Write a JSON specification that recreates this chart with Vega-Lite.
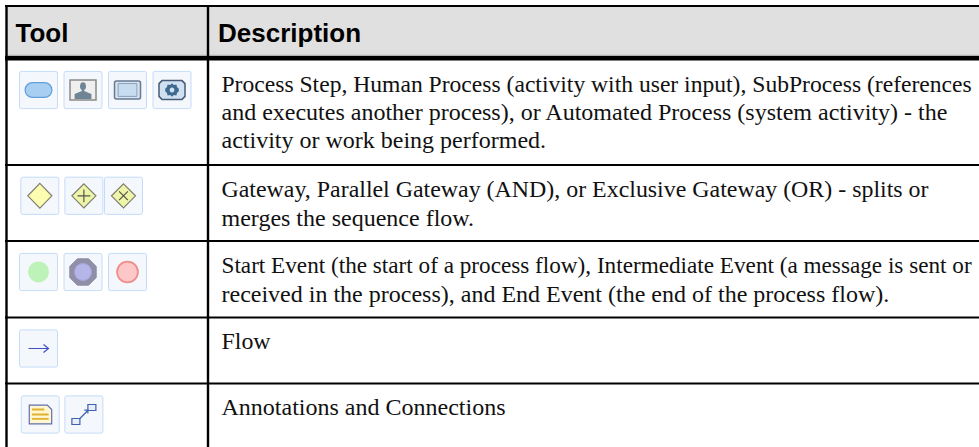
{"$schema":"https://vega.github.io/schema/vega-lite/v6.json","width":979,"height":447,"padding":0,"autosize":{"type":"fit","contains":"padding"},"background":"white","config":{"view":{"stroke":null}},"datasets":{"hlines":[{"boundary":0,"kind":"thin"},{"boundary":0.9,"kind":"hair"},{"boundary":1,"kind":"heavy"},{"boundary":2,"kind":"thin"},{"boundary":3,"kind":"thin"},{"boundary":4,"kind":"thin"},{"boundary":5,"kind":"thin"}],"vlines":[{"column":0},{"column":1}],"header":[{"column":1,"label":"Tool"},{"column":2,"label":"Description"}],"body":[{"lineNo":1,"text":"Process Step, Human Process (activity with user input), SubProcess (references"},{"lineNo":2,"text":"and executes another process), or Automated Process (system activity) - the"},{"lineNo":3,"text":"activity or work being performed."},{"lineNo":4,"text":"Gateway, Parallel Gateway (AND), or Exclusive Gateway (OR) - splits or"},{"lineNo":5,"text":"merges the sequence flow."},{"lineNo":6,"text":"Start Event (the start of a process flow), Intermediate Event (a message is sent or"},{"lineNo":7,"text":"received in the process), and End Event (the end of the process flow)."},{"lineNo":8,"text":"Flow"},{"lineNo":9,"text":"Annotations and Connections"}],"icons":[{"row":1,"slot":1,"part":"tile"},{"row":1,"slot":1,"part":"pill"},{"row":1,"slot":2,"part":"tile"},{"row":1,"slot":2,"part":"frame"},{"row":1,"slot":2,"part":"person"},{"row":1,"slot":3,"part":"tile"},{"row":1,"slot":3,"part":"subOuter"},{"row":1,"slot":3,"part":"subInner"},{"row":1,"slot":4,"part":"tile"},{"row":1,"slot":4,"part":"auto"},{"row":1,"slot":4,"part":"gear"},{"row":1,"slot":4,"part":"gearHole"},{"row":2,"slot":1.03,"part":"tile"},{"row":2,"slot":1.03,"part":"diamond"},{"row":2,"slot":2.02,"part":"tile"},{"row":2,"slot":2.02,"part":"diamondSmall"},{"row":2,"slot":2.02,"part":"plus"},{"row":2,"slot":2.91,"part":"tile"},{"row":2,"slot":2.91,"part":"diamondSmall"},{"row":2,"slot":2.91,"part":"cross"},{"row":3,"slot":1,"part":"tile"},{"row":3,"slot":1,"part":"green"},{"row":3,"slot":2,"part":"tile"},{"row":3,"slot":2,"part":"ring"},{"row":3,"slot":2,"part":"violet"},{"row":3,"slot":3,"part":"tile"},{"row":3,"slot":3,"part":"red"},{"row":4,"slot":1,"part":"tile"},{"row":4,"slot":1,"part":"arrow"},{"row":5,"slot":1.04,"part":"tile"},{"row":5,"slot":1.04,"part":"note"},{"row":5,"slot":1.04,"part":"noteLines"},{"row":5,"slot":2.02,"part":"tile"},{"row":5,"slot":2.02,"part":"connBoxes"},{"row":5,"slot":2.02,"part":"connLine"}]},"layer":[{"data":{"values":[{"band":"header"}]},"mark":{"type":"rect","fill":"#e0e0e0","stroke":null},"encoding":{"x":{"datum":0,"type":"quantitative","scale":{"domain":[0,1],"range":[6,979]},"axis":null},"x2":{"datum":1},"y":{"datum":0,"type":"quantitative","scale":{"domain":[0,1],"range":[6,56]},"axis":null},"y2":{"datum":1}}},{"data":{"name":"hlines"},"mark":{"type":"rule"},"encoding":{"x":{"datum":0,"type":"quantitative","scale":{"domain":[0,1],"range":[5,979]},"axis":null},"x2":{"datum":1},"y":{"field":"boundary","type":"quantitative","scale":{"domain":[0,0.9,1,2,3,4,5],"range":[6,55.3,58.3,165,241,317.5,383.5]},"axis":null},"color":{"field":"kind","type":"nominal","legend":null,"scale":{"domain":["thin","hair","heavy"],"range":["#000000","#a8a8a8","#000000"]}},"strokeWidth":{"field":"kind","type":"nominal","scale":{"type":"ordinal","domain":["thin","hair","heavy"],"range":[2,1,4.4]},"legend":null}}},{"data":{"name":"vlines"},"mark":{"type":"rule","color":"black","strokeWidth":2.4},"encoding":{"x":{"field":"column","type":"quantitative","scale":{"domain":[0,1],"range":[6.5,208]},"axis":null},"y":{"datum":0,"type":"quantitative","scale":{"domain":[0,1],"range":[5,447]},"axis":null},"y2":{"datum":1}}},{"data":{"name":"header"},"mark":{"type":"text","font":"Liberation Sans","fontWeight":"bold","fontSize":26,"align":"left","baseline":"alphabetic","color":"black"},"encoding":{"x":{"field":"column","type":"quantitative","scale":{"domain":[1,2],"range":[15.5,218]},"axis":null},"y":{"datum":1,"type":"quantitative","scale":{"domain":[0,1],"range":[0,42]},"axis":null},"text":{"field":"label"}}},{"data":{"name":"body"},"mark":{"type":"text","font":"Liberation Serif","align":"left","baseline":"alphabetic","color":"#111111"},"encoding":{"x":{"datum":0,"type":"quantitative","scale":{"domain":[0,1],"range":[221.5,979]},"axis":null},"y":{"field":"lineNo","type":"quantitative","scale":{"domain":[1,2,3,4,5,6,7,8,9],"range":[92,120,148,196.7,225.7,273,301.7,349,415]},"axis":null},"size":{"field":"lineNo","type":"quantitative","legend":null,"scale":{"domain":[1,2,3,4,5,6,7,8,9],"range":[23.6,24,24,23.9,24,23.2,24,23.9,24]}},"text":{"field":"text"}}},{"data":{"name":"icons"},"mark":{"type":"point","filled":true,"size":1600,"opacity":1},"encoding":{"x":{"field":"slot","type":"quantitative","scale":{"domain":[1,4],"range":[38.5,172]},"axis":null},"y":{"field":"row","type":"quantitative","scale":{"domain":[1,2,3,4,5],"range":[90,195.8,272,348.5,414.5]},"axis":null},"shape":{"field":"part","type":"nominal","legend":null,"scale":{"domain":["tile","pill","frame","person","subOuter","subInner","auto","gear","gearHole","diamond","diamondSmall","plus","cross","green","ring","violet","red","arrow","note","noteLines","connBoxes","connLine"],"range":["M-0.85,-0.93H0.85Q0.95,-0.93 0.95,-0.83V0.83Q0.95,0.93 0.85,0.93H-0.85Q-0.95,0.93 -0.95,0.83V-0.83Q-0.95,-0.93 -0.85,-0.93Z","M-0.3,-0.37H0.3A0.37,0.37 0 0 1 0.3,0.37H-0.3A0.37,0.37 0 0 1 -0.3,-0.37Z","M-0.65,-0.5H0.65V0.5H-0.65Z","M-0.12,-0.33A0.16,0.16 0 0 1 0.12,-0.33Q0.2,-0.1 0.06,0V0.05L0.42,0.2V0.45H-0.42V0.2L-0.06,0.05V0Q-0.2,-0.1 -0.12,-0.33Z","M-0.55,-0.45H0.55Q0.65,-0.45 0.65,-0.35V0.35Q0.65,0.45 0.55,0.45H-0.55Q-0.65,0.45 -0.65,0.35V-0.35Q-0.65,-0.45 -0.55,-0.45Z","M-0.47,-0.32H0.47V0.32H-0.47Z","M-0.5,-0.47H0.5L0.65,-0.32V0.32L0.5,0.47H-0.5L-0.65,0.32V-0.32Z","M0,-0.34L0.09,-0.25L0.22,-0.27L0.25,-0.15L0.34,-0.06V0.06L0.25,0.15L0.22,0.27L0.09,0.25L0,0.34L-0.09,0.25L-0.22,0.27L-0.25,0.15L-0.34,0.06V-0.06L-0.25,-0.15L-0.22,-0.27L-0.09,-0.25Z","M0,-0.12A0.12,0.12 0 1 1 0,0.12A0.12,0.12 0 1 1 0,-0.12Z","M0,-0.62L0.6,0L0,0.62L-0.6,0Z","M0,-0.6L0.6,0L0,0.6L-0.6,0Z","M0,-0.32V0.32M-0.32,0H0.32","M-0.22,-0.22L0.22,0.22M-0.22,0.22L0.22,-0.22","M0,-0.52A0.52,0.52 0 1 1 0,0.52A0.52,0.52 0 1 1 0,-0.52Z","M-0.28,-0.66H0.28L0.66,-0.28V0.28L0.28,0.66H-0.28L-0.66,0.28V-0.28Z","M0,-0.42A0.42,0.42 0 1 1 0,0.42A0.42,0.42 0 1 1 0,-0.42Z","M0,-0.52A0.52,0.52 0 1 1 0,0.52A0.52,0.52 0 1 1 0,-0.52Z","M-0.5,0H0.5M0.25,-0.2L0.5,0L0.25,0.2","M-0.55,-0.47H0.35L0.57,-0.25V0.47H-0.55Z","M-0.42,-0.25H0.2M-0.42,0H0.42M-0.42,0.22H0.42","M-0.6,0.2H-0.2V0.5H-0.6ZM0.2,-0.5H0.6V-0.2H0.2Z","M-0.2,0.2L0.2,-0.2M0.02,-0.22H0.2V-0.05"]}},"fill":{"field":"part","type":"nominal","legend":null,"scale":{"domain":["tile","pill","frame","person","subOuter","subInner","auto","gear","gearHole","diamond","diamondSmall","plus","cross","green","ring","violet","red","arrow","note","noteLines","connBoxes","connLine"],"range":["#f4f7fb","#a8cef2","#efefef","#6f8595","#d5e3f2","#c8dcf0","#cfe0f0","#3f6a90","#cfe0f0","#fdfdb0","#eef5a8","transparent","transparent","#bdf2b8","#8f8fa8","#b5b5ea","#ffc8c8","transparent","#fff7d0","transparent","#e6eefc","transparent"]}},"stroke":{"field":"part","type":"nominal","legend":null,"scale":{"domain":["tile","pill","frame","person","subOuter","subInner","auto","gear","gearHole","diamond","diamondSmall","plus","cross","green","ring","violet","red","arrow","note","noteLines","connBoxes","connLine"],"range":["#c4dcfa","#5f9fdc","#8a8a8a","transparent","#667a90","#8aa0b8","#445c78","transparent","transparent","#7d7d70","#7d7d70","#555548","#555548","transparent","#8f8fa8","#a8a8e0","#f08c8c","#4050c0","#6070b0","#e0b030","#4060b0","#4060b0"]}},"strokeWidth":{"field":"part","type":"nominal","legend":null,"scale":{"type":"ordinal","domain":["tile","pill","frame","person","subOuter","subInner","auto","gear","gearHole","diamond","diamondSmall","plus","cross","green","ring","violet","red","arrow","note","noteLines","connBoxes","connLine"],"range":[1,1.2,1.5,0,1.5,1,1.5,0,0,1.2,1.2,1.2,1.2,0,1,1,1.8,1.2,1.2,1.8,1.2,1.2]}}}}],"resolve":{"scale":{"x":"independent","y":"independent","color":"independent","strokeWidth":"independent","size":"independent"}}}
